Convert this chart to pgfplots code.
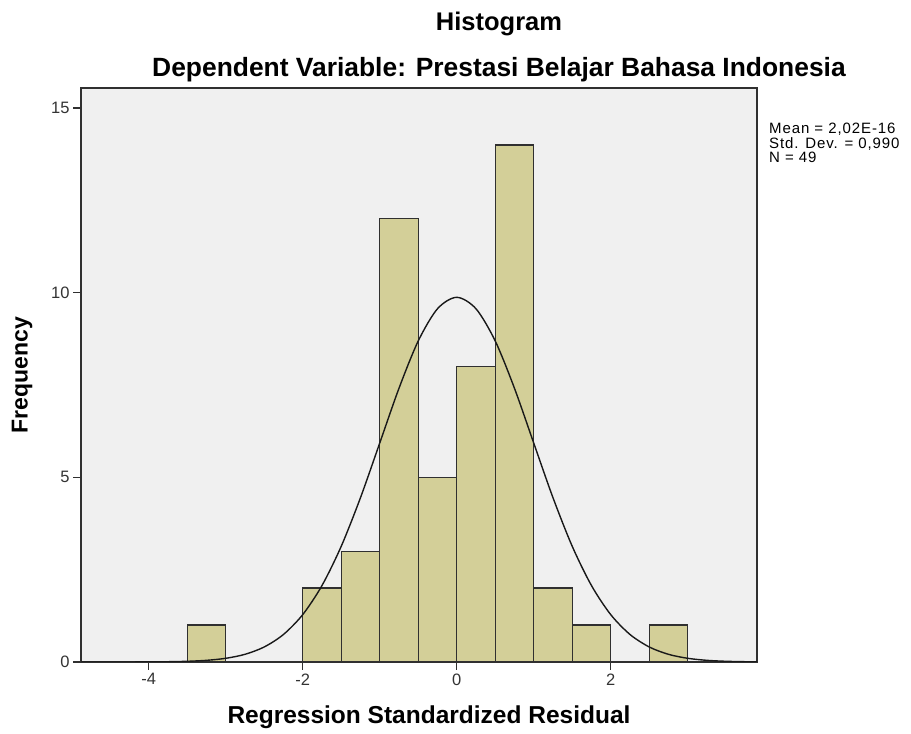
\documentclass[border=0pt]{standalone}
\usepackage{pgfplots}
\pgfplotsset{compat=1.18}
\usepackage{fontspec}
\setmainfont{Liberation Sans}
\definecolor{bgc}{HTML}{F0F0F0}
\definecolor{barc}{HTML}{D3CF98}
\definecolor{edgec}{HTML}{303030}
\begin{document}
\begin{tikzpicture}
\useasboundingbox (0pt,0pt) rectangle (911pt,734pt);
\begin{axis}[
  at={(81pt,72pt)}, anchor=south west,
  width=676pt, height=574pt, scale only axis,
  xmin=-4.88, xmax=3.9, ymin=0, ymax=15.54,
  xtick={-4,-2,0,2}, ytick={0,5,10,15},
  tick align=outside, major tick length=8pt,
  xtick pos=bottom, ytick pos=left,
  axis background/.style={fill=bgc},
  axis line style={edgec, line width=1.2pt},
  tick style={edgec, line width=1.2pt},
  tick label style={font=\fontsize{16.5}{18}\selectfont, text=black!80},
  /pgf/number format/assume math mode=true,
  clip=true,
]
\addplot[ybar interval, fill=barc, draw=edgec, line width=1.3pt] coordinates {
(-3.5,1) (-3,0) (-2.5,0) (-2,2) (-1.5,3) (-1,12) (-0.5,5) (0,8) (0.5,14) (1,2) (1.5,1) (2,0) (2.5,1) (3,1)
};
\addplot[black!90, line width=1.4pt, smooth] coordinates {
(-4.88,0.0000) (-4.5,0.0003) (-4.25,0.0009) (-4.0,0.0028) (-3.75,0.0076) (-3.5,0.019) (-3.25,0.045) (-3.0,0.100) (-2.75,0.208) (-2.5,0.407) (-2.25,0.746) (-2.0,1.283) (-1.75,2.070) (-1.5,3.133) (-1.25,4.449) (-1.0,5.928) (-0.75,7.410) (-0.5,8.691) (-0.25,9.563) (0,9.873) (0.25,9.563) (0.5,8.691) (0.75,7.410) (1.0,5.928) (1.25,4.449) (1.5,3.133) (1.75,2.070) (2.0,1.283) (2.25,0.746) (2.5,0.407) (2.75,0.208) (3.0,0.100) (3.25,0.045) (3.5,0.019) (3.75,0.0076) (3.9,0.0045)
};
\end{axis}
\node[font=\fontsize{25.5}{28}\selectfont\bfseries] at (499pt,710pt) {Histogram};
\node[font=\fontsize{26.4}{28}\selectfont\bfseries] at (499pt,664pt) {Dependent Variable: Prestasi Belajar Bahasa Indonesia};
\node[font=\fontsize{24.5}{28}\selectfont\bfseries] at (429pt,17pt) {Regression Standardized Residual};
\node[font=\fontsize{23}{26}\selectfont\bfseries, rotate=90] at (22pt,359pt) {Frequency};
\node[anchor=north west, align=left, inner sep=0pt, font=\fontsize{15}{14.5}\selectfont\addfontfeature{LetterSpace=6}] at (769pt,611pt) {Mean = 2,02E-16\\Std. Dev. = 0,990\\N = 49};
\end{tikzpicture}
\end{document}
